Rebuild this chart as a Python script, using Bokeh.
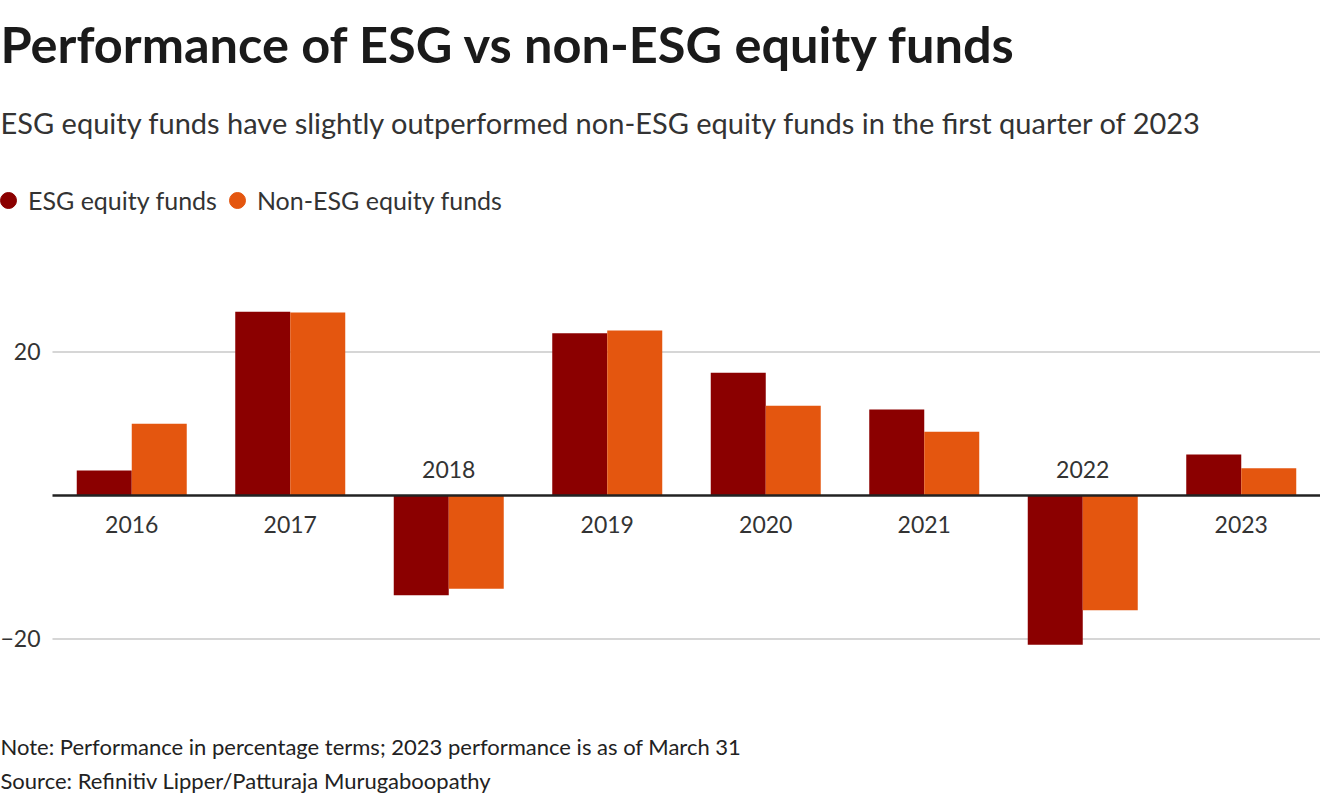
from bokeh.plotting import figure
from bokeh.models import ColumnDataSource, Range1d, Label, Legend, LegendItem
from bokeh.transform import dodge
from bokeh.core.properties import value
from bokeh.embed import file_html
from bokeh.resources import INLINE

# ---- data ----
years = ["2016", "2017", "2018", "2019", "2020", "2021", "2022", "2023"]
esg = [3.5, 25.6, -13.9, 22.6, 17.1, 12.0, -20.8, 5.7]
non_esg = [10.0, 25.5, -13.0, 23.0, 12.5, 8.9, -16.0, 3.8]
series_names = ["ESG equity funds", "Non-ESG equity funds"]
y_ticks = [-20, 20]
y_tick_labels = ["\u221220", "20"]

title = "Performance of ESG vs non-ESG equity funds"
subtitle = "ESG equity funds have slightly outperformed non-ESG equity funds in the first quarter of 2023"
note = "Note: Performance in percentage terms; 2023 performance is as of March 31"
source = "Source: Refinitiv Lipper/Patturaja Murugaboopathy"

# ---- styles ----
ESG_COLOR = "#8B0000"
NON_COLOR = "#E4560F"
TEXT = "#222222"
GRID = "#c8c8c8"
FONT = "Lato"

W, H = 1320, 800
LEFT_PX = 52                       # space for the value labels, left of the bars
CAT_PX = (W - LEFT_PX) / len(years)
BAR_W = 0.347

n = len(years)
idx = list(range(n))
label_offset = [29 if max(a, b) > 0 else -26 for a, b in zip(esg, non_esg)]

src = ColumnDataSource(dict(idx=idx, year=years, esg=esg, non=non_esg, yoff=label_offset))
tick_src = ColumnDataSource(dict(y=y_ticks, text=y_tick_labels))

p = figure(x_range=Range1d(-0.5 - LEFT_PX / CAT_PX, n - 0.5),
           y_range=Range1d(-42.51, 68.99),
           width=W, height=H, output_backend="svg", toolbar_location=None,
           x_axis_location=None, y_axis_location=None,
           min_border=0, outline_line_color=None)
p.background_fill_color = "white"
p.border_fill_color = "white"
p.xgrid.visible = False
p.ygrid.visible = False

# gridlines spanning the category area
p.segment(x0=-0.5, x1=n - 0.5, y0="y", y1="y", source=tick_src,
          line_color=GRID, line_width=1.5)
# value labels
p.text(x=-0.5, y="y", text="text", source=tick_src, x_offset=-12,
       text_align="right", text_baseline="middle",
       text_font=value(FONT), text_font_size="23px", text_color="#333333")

# bars
p.vbar(x=dodge("idx", -BAR_W / 2), top="esg", width=BAR_W,
       source=src, fill_color=ESG_COLOR, line_color=None)
p.vbar(x=dodge("idx", BAR_W / 2), top="non", width=BAR_W,
       source=src, fill_color=NON_COLOR, line_color=None)

# zero line
p.segment(x0=-0.5, x1=n - 0.5, y0=0, y1=0, line_color=TEXT, line_width=2.5)

# category labels
p.text(x="idx", y=0, text="year", y_offset="yoff", source=src,
       text_align="center", text_baseline="alphabetic",
       text_font=value(FONT), text_font_size="23px", text_color="#333333")

# legend (circle swatches; the renderers hold no visible point)
nan = float("nan")
r1 = p.scatter(x=[nan], y=[nan], marker="circle", fill_color=ESG_COLOR, line_color=ESG_COLOR)
r2 = p.scatter(x=[nan], y=[nan], marker="circle", fill_color=NON_COLOR, line_color=NON_COLOR)
legend = Legend(items=[LegendItem(label=series_names[0], renderers=[r1], index=0),
                       LegendItem(label=series_names[1], renderers=[r2], index=0)],
                orientation="horizontal", location=(-12, H - 220),
                glyph_width=40, glyph_height=40, label_standoff=0, spacing=0,
                padding=0, margin=0, border_line_color=None,
                background_fill_alpha=0,
                label_text_font=FONT, label_text_font_size="25px",
                label_text_color="#333333")
p.add_layout(legend)

# titles and notes
def add_label(text, y_from_top, size, style="normal", color=TEXT):
    p.add_layout(Label(x=0, y=H - y_from_top, x_units="screen", y_units="screen",
                       text=text, text_font=FONT, text_font_size=size,
                       text_font_style=style, text_color=color,
                       text_baseline="alphabetic", text_align="left"))

add_label(title, 43, "50.5px", "bold", "#1a1a1a")
add_label(subtitle, 122, "29px", "normal", "#333333")
add_label(note, 746, "22px")
add_label(source, 780, "22px")

open("out.html", "w").write(file_html(p, INLINE))
